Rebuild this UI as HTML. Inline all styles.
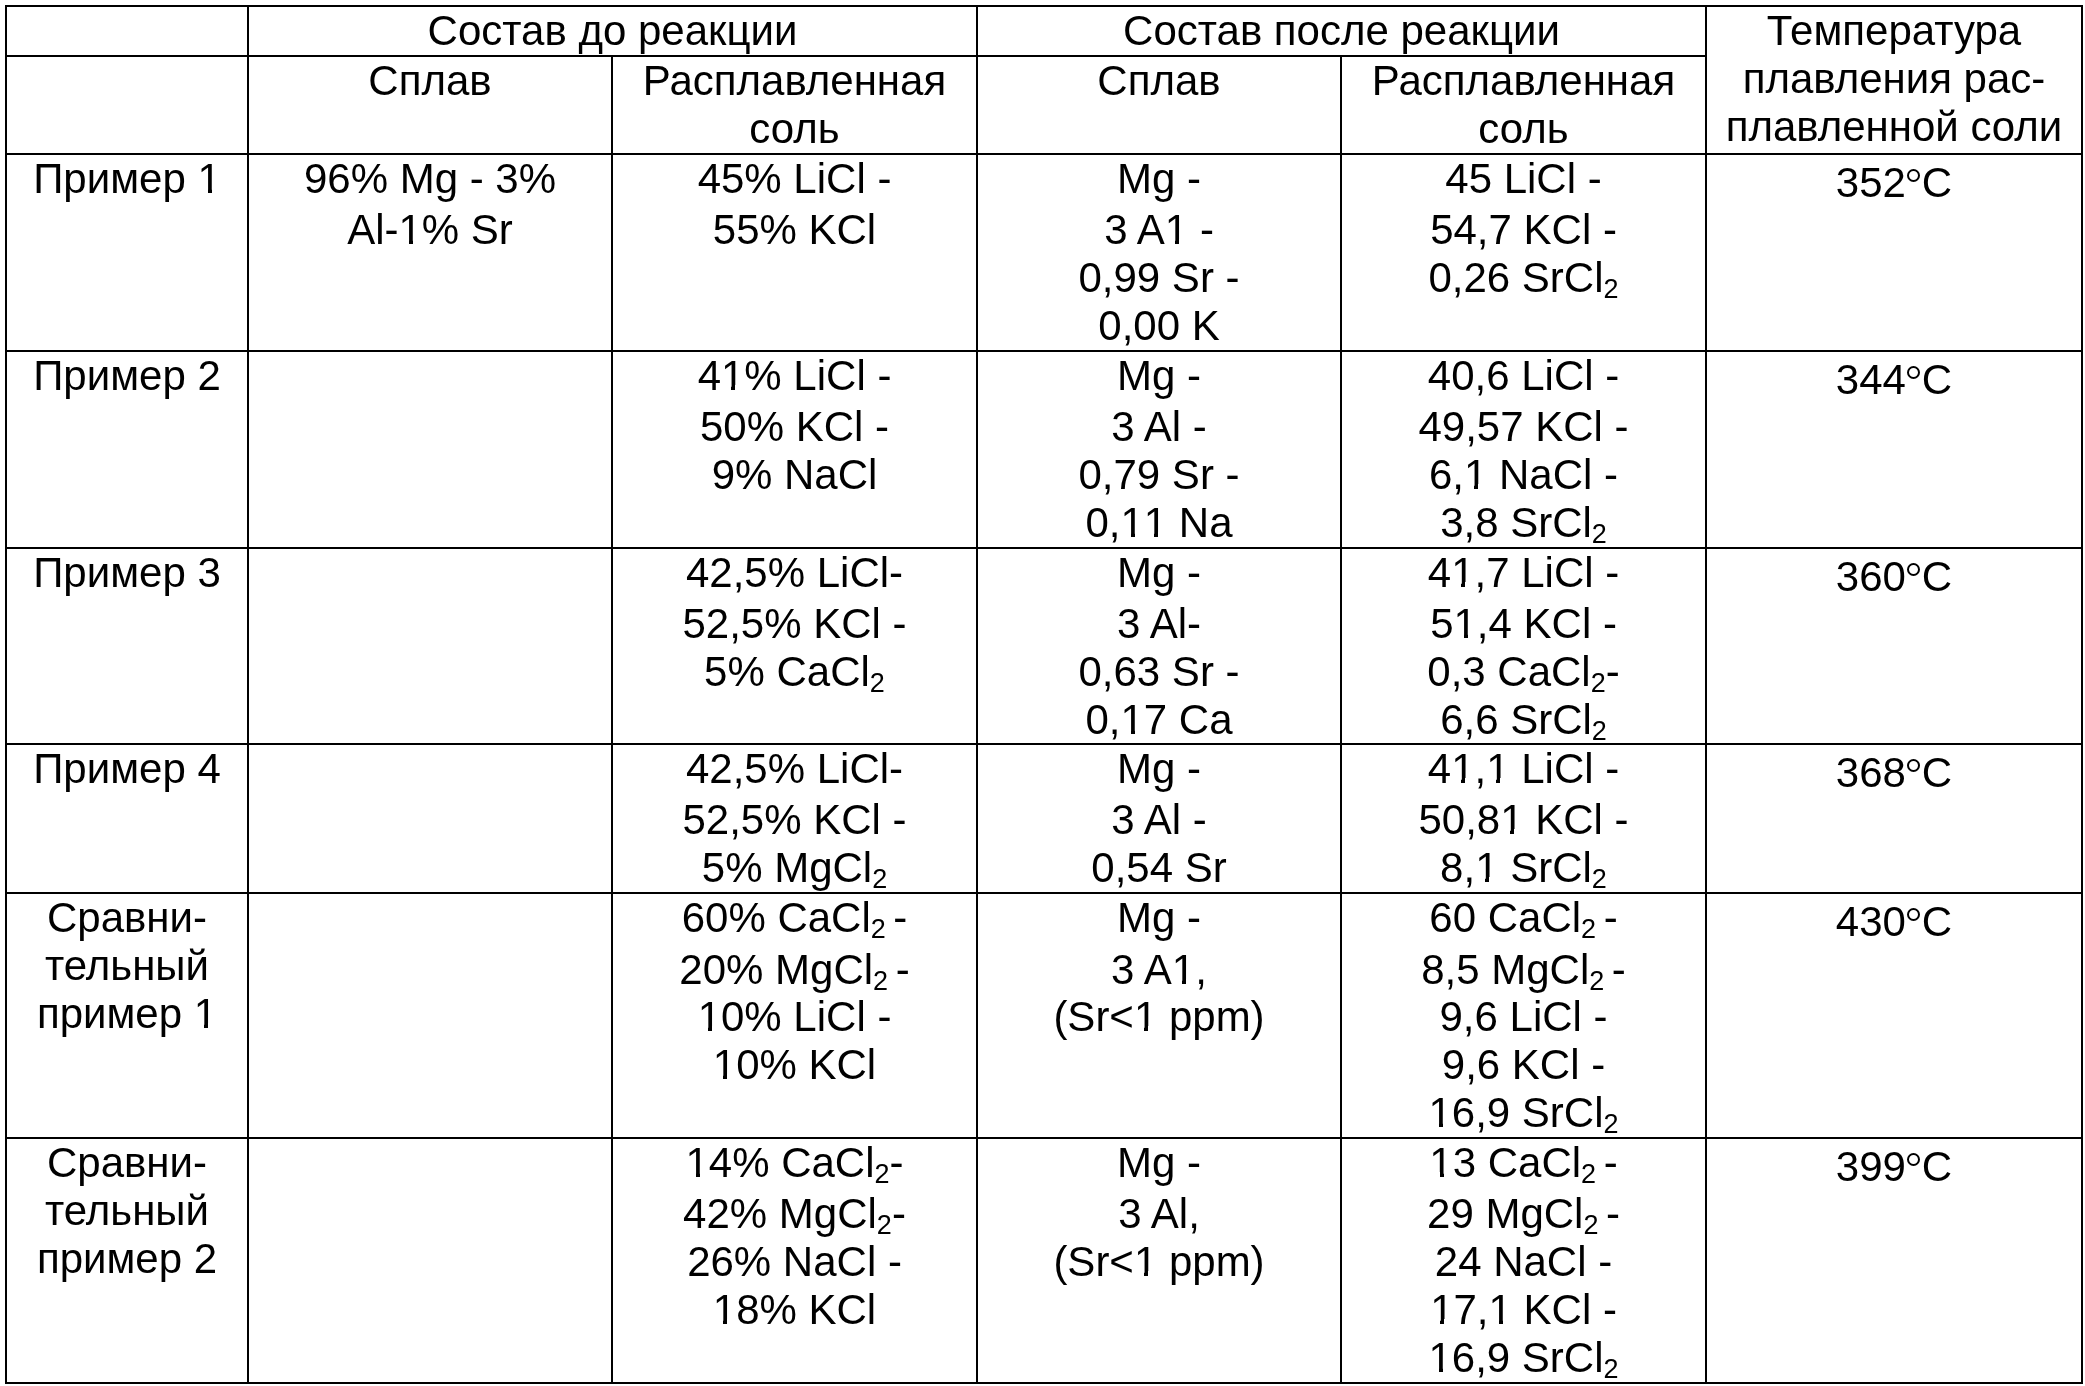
<!DOCTYPE html>
<html><head><meta charset="utf-8"><title>table</title>
<style>
html,body{margin:0;padding:0;background:#fff;}
body{width:2085px;height:1386px;position:relative;overflow:hidden;filter:grayscale(1);}
.l{position:absolute;background:#000;}
.t{position:absolute;height:48px;line-height:48px;font-family:"Liberation Sans",sans-serif;font-size:42px;color:#000;text-align:center;white-space:nowrap;}
.s{font-size:27px;position:relative;top:6px;line-height:0;}
.d{display:inline-block;box-sizing:border-box;width:13px;height:13px;border:2px solid #000;border-radius:50%;vertical-align:15px;margin:0 2px 0 1px;}
.o{position:relative;}
.o::before{content:"";position:absolute;left:0;width:10.3px;top:33px;height:5px;background:#fff;}
.o::after{content:"";position:absolute;left:14.2px;right:0;top:33px;height:5px;background:#fff;}
</style></head><body>
<div class="l" style="left:5px;top:5px;width:2078px;height:2px"></div>
<div class="l" style="left:5px;top:1382px;width:2078px;height:2px"></div>
<div class="l" style="left:5px;top:5px;width:2px;height:1379px"></div>
<div class="l" style="left:2081px;top:5px;width:2px;height:1379px"></div>
<div class="l" style="left:5px;top:55px;width:1702px;height:2px"></div>
<div class="l" style="left:5px;top:153px;width:2078px;height:2px"></div>
<div class="l" style="left:5px;top:350px;width:2078px;height:2px"></div>
<div class="l" style="left:5px;top:547px;width:2078px;height:2px"></div>
<div class="l" style="left:5px;top:743px;width:2078px;height:2px"></div>
<div class="l" style="left:5px;top:892px;width:2078px;height:2px"></div>
<div class="l" style="left:5px;top:1137px;width:2078px;height:2px"></div>
<div class="l" style="left:247px;top:5px;width:2px;height:1379px"></div>
<div class="l" style="left:976px;top:5px;width:2px;height:1379px"></div>
<div class="l" style="left:1705px;top:5px;width:2px;height:1379px"></div>
<div class="l" style="left:611px;top:55px;width:2px;height:1329px"></div>
<div class="l" style="left:1340px;top:55px;width:2px;height:1329px"></div>
<div class="t" style="left:249px;top:7px;width:727px">Состав до реакции</div>
<div class="t" style="left:978px;top:7px;width:727px">Состав после реакции</div>
<div class="t" style="left:1707px;top:7px;width:374px">Температура</div>
<div class="t" style="left:1707px;top:55px;width:374px">плавления рас-</div>
<div class="t" style="left:1707px;top:103px;width:374px">плавленной соли</div>
<div class="t" style="left:249px;top:57px;width:362px">Сплав</div>
<div class="t" style="left:613px;top:57px;width:363px">Расплавленная</div>
<div class="t" style="left:613px;top:105px;width:363px">соль</div>
<div class="t" style="left:978px;top:57px;width:362px">Сплав</div>
<div class="t" style="left:1342px;top:57px;width:363px">Расплавленная</div>
<div class="t" style="left:1342px;top:105px;width:363px">соль</div>
<div class="t" style="left:7px;top:155px;width:240px">Пример <span class="o">1</span></div>
<div class="t" style="left:249px;top:155px;width:362px">96% Mg - 3%</div>
<div class="t" style="left:249px;top:206px;width:362px">Al-<span class="o">1</span>% Sr</div>
<div class="t" style="left:613px;top:155px;width:363px">45% LiCl -</div>
<div class="t" style="left:613px;top:206px;width:363px">55% KCl</div>
<div class="t" style="left:978px;top:155px;width:362px">Mg -</div>
<div class="t" style="left:978px;top:206px;width:362px">3 A<span class="o">1</span> -</div>
<div class="t" style="left:978px;top:254px;width:362px">0,99 Sr -</div>
<div class="t" style="left:978px;top:302px;width:362px">0,00 K</div>
<div class="t" style="left:1342px;top:155px;width:363px">45 LiCl -</div>
<div class="t" style="left:1342px;top:206px;width:363px">54,7 KCl -</div>
<div class="t" style="left:1342px;top:254px;width:363px">0,26 SrCl<span class="s">2</span></div>
<div class="t" style="left:1707px;top:159px;width:374px">352<span class="d"></span>C</div>
<div class="t" style="left:7px;top:352px;width:240px">Пример 2</div>
<div class="t" style="left:613px;top:352px;width:363px">4<span class="o">1</span>% LiCl -</div>
<div class="t" style="left:613px;top:403px;width:363px">50% KCl -</div>
<div class="t" style="left:613px;top:451px;width:363px">9% NaCl</div>
<div class="t" style="left:978px;top:352px;width:362px">Mg -</div>
<div class="t" style="left:978px;top:403px;width:362px">3 Al -</div>
<div class="t" style="left:978px;top:451px;width:362px">0,79 Sr -</div>
<div class="t" style="left:978px;top:499px;width:362px">0,<span class="o">1</span><span class="o">1</span> Na</div>
<div class="t" style="left:1342px;top:352px;width:363px">40,6 LiCl -</div>
<div class="t" style="left:1342px;top:403px;width:363px">49,57 KCl -</div>
<div class="t" style="left:1342px;top:451px;width:363px">6,<span class="o">1</span> NaCl -</div>
<div class="t" style="left:1342px;top:499px;width:363px">3,8 SrCl<span class="s">2</span></div>
<div class="t" style="left:1707px;top:356px;width:374px">344<span class="d"></span>C</div>
<div class="t" style="left:7px;top:549px;width:240px">Пример 3</div>
<div class="t" style="left:613px;top:549px;width:363px">42,5% LiCl-</div>
<div class="t" style="left:613px;top:600px;width:363px">52,5% KCl -</div>
<div class="t" style="left:613px;top:648px;width:363px">5% CaCl<span class="s">2</span></div>
<div class="t" style="left:978px;top:549px;width:362px">Mg -</div>
<div class="t" style="left:978px;top:600px;width:362px">3 Al-</div>
<div class="t" style="left:978px;top:648px;width:362px">0,63 Sr -</div>
<div class="t" style="left:978px;top:696px;width:362px">0,<span class="o">1</span>7 Ca</div>
<div class="t" style="left:1342px;top:549px;width:363px">4<span class="o">1</span>,7 LiCl -</div>
<div class="t" style="left:1342px;top:600px;width:363px">5<span class="o">1</span>,4 KCl -</div>
<div class="t" style="left:1342px;top:648px;width:363px">0,3 CaCl<span class="s">2</span>-</div>
<div class="t" style="left:1342px;top:696px;width:363px">6,6 SrCl<span class="s">2</span></div>
<div class="t" style="left:1707px;top:553px;width:374px">360<span class="d"></span>C</div>
<div class="t" style="left:7px;top:745px;width:240px">Пример 4</div>
<div class="t" style="left:613px;top:745px;width:363px">42,5% LiCl-</div>
<div class="t" style="left:613px;top:796px;width:363px">52,5% KCl -</div>
<div class="t" style="left:613px;top:844px;width:363px">5% MgCl<span class="s">2</span></div>
<div class="t" style="left:978px;top:745px;width:362px">Mg -</div>
<div class="t" style="left:978px;top:796px;width:362px">3 Al -</div>
<div class="t" style="left:978px;top:844px;width:362px">0,54 Sr</div>
<div class="t" style="left:1342px;top:745px;width:363px">4<span class="o">1</span>,<span class="o">1</span> LiCl -</div>
<div class="t" style="left:1342px;top:796px;width:363px">50,8<span class="o">1</span> KCl -</div>
<div class="t" style="left:1342px;top:844px;width:363px">8,<span class="o">1</span> SrCl<span class="s">2</span></div>
<div class="t" style="left:1707px;top:749px;width:374px">368<span class="d"></span>C</div>
<div class="t" style="left:7px;top:894px;width:240px">Сравни-</div>
<div class="t" style="left:7px;top:942px;width:240px">тельный</div>
<div class="t" style="left:7px;top:990px;width:240px">пример <span class="o">1</span></div>
<div class="t" style="left:613px;top:894px;width:363px">60% CaCl<span class="s">2 </span>-</div>
<div class="t" style="left:613px;top:946px;width:363px">20% MgCl<span class="s">2 </span>-</div>
<div class="t" style="left:613px;top:993px;width:363px"><span class="o">1</span>0% LiCl -</div>
<div class="t" style="left:613px;top:1041px;width:363px"><span class="o">1</span>0% KCl</div>
<div class="t" style="left:978px;top:894px;width:362px">Mg -</div>
<div class="t" style="left:978px;top:946px;width:362px">3 A<span class="o">1</span>,</div>
<div class="t" style="left:978px;top:993px;width:362px">(Sr&lt;<span class="o">1</span> ppm)</div>
<div class="t" style="left:1342px;top:894px;width:363px">60 CaCl<span class="s">2 </span>-</div>
<div class="t" style="left:1342px;top:946px;width:363px">8,5 MgCl<span class="s">2 </span>-</div>
<div class="t" style="left:1342px;top:993px;width:363px">9,6 LiCl -</div>
<div class="t" style="left:1342px;top:1041px;width:363px">9,6 KCl -</div>
<div class="t" style="left:1342px;top:1089px;width:363px"><span class="o">1</span>6,9 SrCl<span class="s">2</span></div>
<div class="t" style="left:1707px;top:898px;width:374px">430<span class="d"></span>C</div>
<div class="t" style="left:7px;top:1139px;width:240px">Сравни-</div>
<div class="t" style="left:7px;top:1187px;width:240px">тельный</div>
<div class="t" style="left:7px;top:1235px;width:240px">пример 2</div>
<div class="t" style="left:613px;top:1139px;width:363px"><span class="o">1</span>4% CaCl<span class="s">2</span>-</div>
<div class="t" style="left:613px;top:1190px;width:363px">42% MgCl<span class="s">2</span>-</div>
<div class="t" style="left:613px;top:1238px;width:363px">26% NaCl -</div>
<div class="t" style="left:613px;top:1286px;width:363px"><span class="o">1</span>8% KCl</div>
<div class="t" style="left:978px;top:1139px;width:362px">Mg -</div>
<div class="t" style="left:978px;top:1190px;width:362px">3 Al,</div>
<div class="t" style="left:978px;top:1238px;width:362px">(Sr&lt;<span class="o">1</span> ppm)</div>
<div class="t" style="left:1342px;top:1139px;width:363px"><span class="o">1</span>3 CaCl<span class="s">2 </span>-</div>
<div class="t" style="left:1342px;top:1190px;width:363px">29 MgCl<span class="s">2 </span>-</div>
<div class="t" style="left:1342px;top:1238px;width:363px">24 NaCl -</div>
<div class="t" style="left:1342px;top:1286px;width:363px"><span class="o">1</span>7,<span class="o">1</span> KCl -</div>
<div class="t" style="left:1342px;top:1334px;width:363px"><span class="o">1</span>6,9 SrCl<span class="s">2</span></div>
<div class="t" style="left:1707px;top:1143px;width:374px">399<span class="d"></span>C</div>
</body></html>
